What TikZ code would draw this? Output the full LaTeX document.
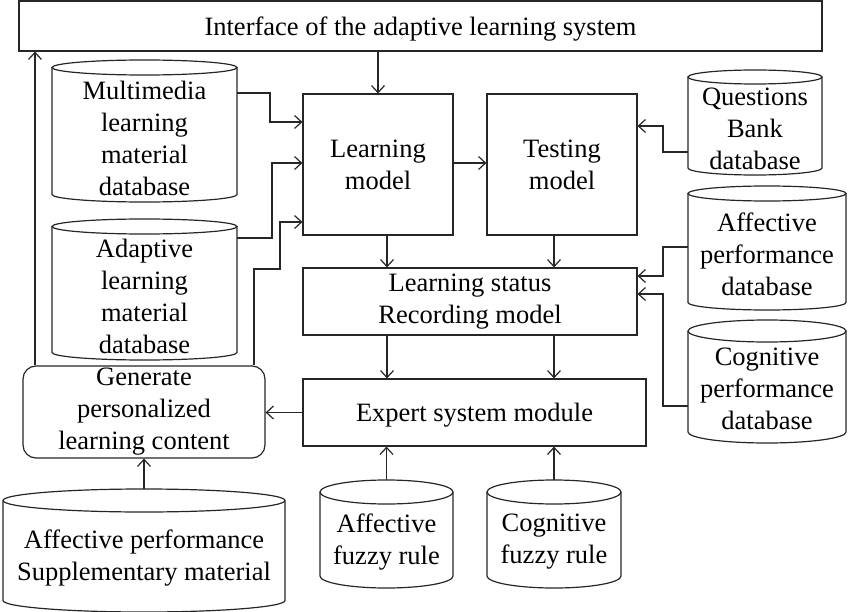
\documentclass[tikz,border=0pt]{standalone}
\usepackage{fontspec}
\setmainfont{Liberation Serif}
\usetikzlibrary{arrows.meta}
\tikzset{
  line/.style={draw=black!85, line width=1.2pt},
  arr/.style={line, -{Straight Barb[length=7pt,width=13pt,line width=1.2pt]}},
  box/.style={line, rectangle, inner sep=0pt, align=center, font=\fontsize{26.5}{32}\selectfont},
  onebox/.style={box, text height=18.5pt, text depth=0pt},
  cyltext/.style={inner sep=0pt, align=center, font=\fontsize{26.5}{32}\selectfont},
}
\newcommand\mycyl[8]{% #1 name, #2 x1, #3 x2, #4 ytop, #5 ybot, #6 ry, #7 text y, #8 text
  \pgfmathsetmacro\cylcx{(#2+#3)/2}%
  \pgfmathsetmacro\cylrx{(#3-#2)/2}%
  \pgfmathsetmacro\cylyt{-(#4+#6)}%
  \pgfmathsetmacro\cylyb{-(#5-#6)}%
  \pgfmathsetmacro\cylwd{#3-#2}%
  \draw[line] (\cylcx,\cylyt) ellipse[x radius=\cylrx pt, y radius=#6 pt];
  \draw[line] (#2,\cylyt) -- (#2,\cylyb) arc[start angle=180,end angle=360,x radius=\cylrx pt,y radius=#6 pt] -- (#3,\cylyt);
  \node[cyltext, minimum width=\cylwd pt] (#1) at (\cylcx,-#7) {#8};
}
\begin{document}
\begin{tikzpicture}[x=1pt,y=1pt]
\useasboundingbox (0,0) rectangle (850,-612);

% boxes
\node[onebox, minimum width=803pt, minimum height=50pt] (iface) at (420.5,-26) {Interface of the adaptive learning system};
\node[box, minimum width=150pt, minimum height=141pt] (lm) at (378,-164.5) {Learning\\model};
\node[box, minimum width=150pt, minimum height=141pt] (tm) at (562,-164.5) {Testing\\model};
\node[box, minimum width=334pt, minimum height=67pt] (ls) at (470,-301.5) {Learning status\\Recording model};
\node[onebox, minimum width=343pt, minimum height=67pt] (es) at (474.5,-412.5) {Expert system module};
\node[box, rounded corners=13pt, minimum width=242pt, minimum height=92pt] (gen) at (144,-412) {Generate\\personalized\\learning content};

% cylinders
\mycyl{mm}{52}{237}{60}{202}{7.5}{138}{Multimedia\\learning\\material\\database}
\mycyl{al}{52}{237}{219}{360}{7.5}{296}{Adaptive\\learning\\material\\database}
\mycyl{qb}{688}{822}{70}{175}{7}{129}{Questions\\Bank\\database}
\mycyl{ap}{688}{846}{186}{310}{7.5}{254}{Affective\\performance\\database}
\mycyl{cp}{688}{846}{320}{443}{11}{389}{Cognitive\\performance\\database}
\mycyl{af}{320}{453}{480}{588}{12}{542}{Affective\\fuzzy rule}
\mycyl{cf}{487}{621}{480}{588}{12}{542}{Cognitive\\fuzzy rule}
\mycyl{aps}{3}{285}{489}{612}{11.5}{558}{Affective performance\\Supplementary material}

% connectors
\draw[arr] (iface.south -| lm.north) -- (lm.north);
\draw[arr] (mm.east |- 0,-93) -- (270,-93) -- (270,-122) -- (lm.west |- 0,-122);
\draw[arr] (al.east |- 0,-238) -- (272,-238) -- (272,-163) -- (lm.west |- 0,-163);
\draw[arr] (gen.north -| 254,0) -- (254,-269) -- (280,-269) -- (280,-222) -- (lm.west |- 0,-222);
\draw[arr] (gen.north -| 35,0) -- (iface.south -| 35,0);
\draw[arr] (lm.east |- 0,-163) -- (tm.west |- 0,-163);
\draw[arr] (lm.south -| 387,0) -- (ls.north -| 387,0);
\draw[arr] (tm.south -| 554,0) -- (ls.north -| 554,0);
\draw[arr] (ls.south -| 387,0) -- (es.north -| 387,0);
\draw[arr] (ls.south -| 554,0) -- (es.north -| 554,0);
\draw[arr] (af.center |- 0,-480) -- (es.south -| af.center);
\draw[arr] (cf.center |- 0,-480) -- (es.south -| cf.center);
\draw[arr] (es.west) -- (gen.east |- es.west);
\draw[arr] (aps.center |- 0,-489) -- (gen.south -| aps.center);
\draw[arr] (qb.west |- 0,-152) -- (663,-152) -- (663,-126) -- (tm.east |- 0,-126);
\draw[arr] (ap.west |- 0,-247) -- (663,-247) -- (663,-276) -- (ls.east |- 0,-276);
\draw[arr] (cp.west |- 0,-406) -- (663,-406) -- (663,-294) -- (ls.east |- 0,-294);
\end{tikzpicture}
\end{document}
